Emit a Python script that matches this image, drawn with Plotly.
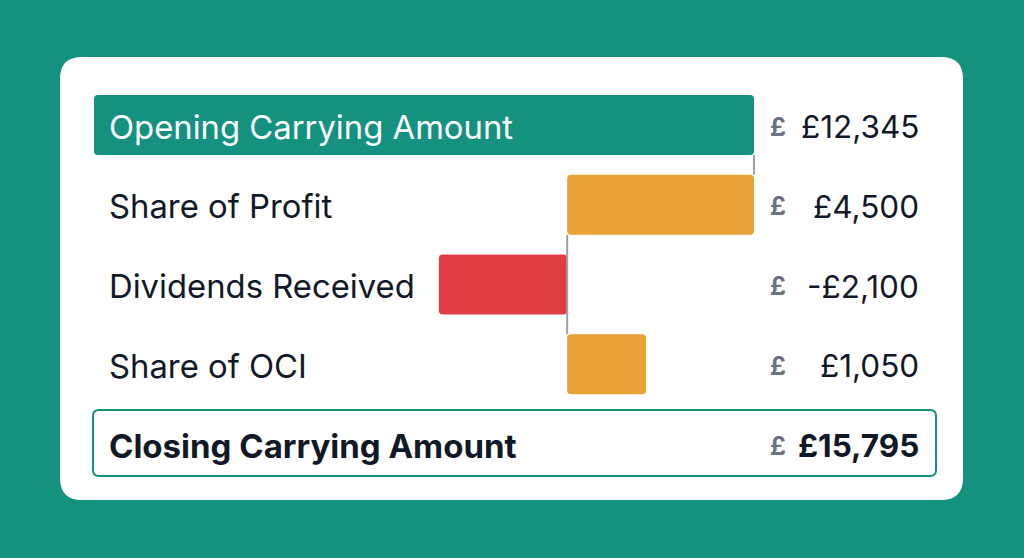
import plotly.graph_objects as go

# ---- data ----
categories = ["Opening Carrying Amount", "Share of Profit", "Dividends Received",
              "Share of OCI", "Closing Carrying Amount"]
amounts = [12345, 4500, -2100, 1050, 15795]
value_labels = ["£12,345", "£4,500", "-£2,100", "£1,050", "£15,795"]
# bar extents as drawn in the chart (chart units)
bar_start = [0, 8850, 6450, 8850]
bar_end = [12345, 12345, 8850, 10325]
bar_colors = ["#15917F", "#E8A236", "#E03E44", "#E8A236"]
# connectors: (x, from row, to row)
connectors = [(12345, 0, 1), (8850, 1, 3)]

W, H = 1024, 558
TEAL = "#15917F"
DARK = "#111827"
GREY = "#6B7280"
FONT = "Inter"

def px(x):
    return x / W

def py(y):
    return 1 - y / H

def rrect(x0, y0, x1, y1, r):
    rx, ry = r / W, r / H
    X0, X1 = px(x0), px(x1)
    Y0, Y1 = py(y0), py(y1)  # Y0 top (bigger), Y1 bottom
    return (f"M {X0+rx},{Y0} L {X1-rx},{Y0} Q {X1},{Y0} {X1},{Y0-ry} "
            f"L {X1},{Y1+ry} Q {X1},{Y1} {X1-rx},{Y1} L {X0+rx},{Y1} "
            f"Q {X0},{Y1} {X0},{Y1+ry} L {X0},{Y0-ry} Q {X0},{Y0} {X0+rx},{Y0} Z")

n_bars = len(bar_start)
rows = list(range(len(categories)))
bar_w = 0.752

fig = go.Figure()
cx, cy = [], []
for x, r0, r1 in connectors:
    cx += [x, x, None]
    cy += [r0 + bar_w / 2, r1 - bar_w / 2, None]
fig.add_trace(go.Scatter(x=cx, y=cy, mode="lines",
                         line=dict(color="#9CA0A8", width=2),
                         hoverinfo="skip", showlegend=False))

fig.add_trace(go.Bar(
    y=rows[:n_bars],
    x=[e - s for s, e in zip(bar_start, bar_end)],
    base=bar_start,
    orientation="h",
    width=bar_w,
    marker=dict(color=bar_colors, line=dict(width=0)),
    hoverinfo="skip",
    showlegend=False,
))

# x range mapping: px 94 -> 0, px 754 -> 12345
k = (754 - 94) / 12345
x_lo = -94 / k
x_hi = (W - 94) / k
# y mapping: row 0 at px 125, row pitch 79.75
pitch = 79.75
y_top = -125 / pitch
y_bot = (H - 125) / pitch

shapes = [
    dict(type="path", xref="paper", yref="paper", path=rrect(60, 57, 963, 500, 22),
         fillcolor="white", line=dict(width=0), layer="below"),
    dict(type="path", xref="paper", yref="paper", path=rrect(93, 410, 936, 476, 6),
         fillcolor="rgba(0,0,0,0)", line=dict(color=TEAL, width=2), layer="above"),
]

annotations = []
for i, cat in enumerate(categories):
    bold = i == len(categories) - 1
    color = "white" if i == 0 else DARK
    txt = f"<b>{cat}</b>" if bold else cat
    annotations.append(dict(x=px(107), xref="paper", y=i + 0.02, yref="y", text=txt,
                            showarrow=False, xanchor="left", yanchor="middle",
                            font=dict(family=FONT, size=(33 if bold else 32.8), color=color)))
    annotations.append(dict(x=px(778), xref="paper", y=i + 0.02, yref="y", text="<b>£</b>",
                            showarrow=False, xanchor="center", yanchor="middle",
                            font=dict(family=FONT, size=25, color=GREY)))
    vt = f"<b>{value_labels[i]}</b>" if bold else value_labels[i]
    annotations.append(dict(x=px(921), xref="paper", y=i + 0.02, yref="y", text=vt,
                            showarrow=False, xanchor="right", yanchor="middle",
                            font=dict(family=FONT, size=31.5, color=DARK)))

fig.update_layout(
    width=W, height=H,
    margin=dict(l=0, r=0, t=0, b=0),
    paper_bgcolor=TEAL,
    plot_bgcolor="rgba(0,0,0,0)",
    barcornerradius=4,
    xaxis=dict(range=[x_lo, x_hi], visible=False, fixedrange=True),
    yaxis=dict(range=[y_bot, y_top], visible=False, fixedrange=True),
    shapes=shapes,
    annotations=annotations,
    showlegend=False,
)

fig.write_html("out.html", config={"displayModeBar": False},
               post_script="document.body.style.margin='0';document.body.style.background='%s';" % TEAL)
